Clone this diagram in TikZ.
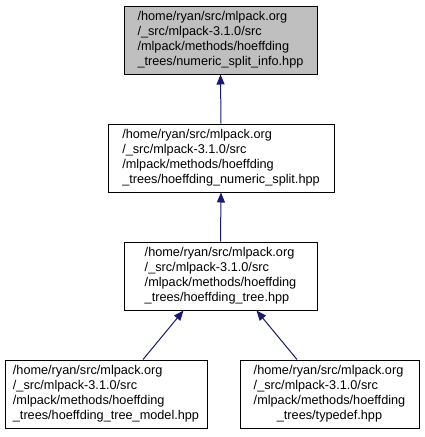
\documentclass[tikz,border=0pt]{standalone}
\usepackage{fontspec}
\setmainfont{Liberation Sans}
\usetikzlibrary{arrows.meta}

\definecolor{edgeblue}{HTML}{191970}
\definecolor{boxgray}{HTML}{BFBFBF}

\begin{document}
\begin{tikzpicture}[x=1pt, y=-1pt,
	every node/.style={font=\fontsize{12.7}{15}\selectfont},
	file/.style={draw, line width=1pt, align=left, minimum height=68pt, inner sep=0pt},
	edge/.style={draw=edgeblue, line width=1pt, -{Triangle[length=10pt, width=8pt]}, edgeblue}]
	\useasboundingbox (0,0) rectangle (424,437);
	\node[file, fill=boxgray, minimum width=193pt] (info) at (220.5,40) {/home/ryan/src/mlpack.org\\/\_src/mlpack-3.1.0/src\\/mlpack/methods/hoeffding\\\_trees/numeric\_split\_info.hpp};
	\node[file, minimum width=226pt] (split) at (221,158) {/home/ryan/src/mlpack.org\\/\_src/mlpack-3.1.0/src\\/mlpack/methods/hoeffding\\\_trees/hoeffding\_numeric\_split.hpp};
	\node[file, minimum width=193pt] (tree) at (220.5,276) {/home/ryan/src/mlpack.org\\/\_src/mlpack-3.1.0/src\\/mlpack/methods/hoeffding\\\_trees/hoeffding\_tree.hpp};
	\node[file, minimum width=202pt] (model) at (106,394) {/home/ryan/src/mlpack.org\\/\_src/mlpack-3.1.0/src\\/mlpack/methods/hoeffding\\\_trees/hoeffding\_tree\_model.hpp};
	\node[file, minimum width=179pt] (typedef) at (329.5,394) {\begin{tabular}{@{}l@{}}/home/ryan/src/mlpack.org\\/\_src/mlpack-3.1.0/src\\/mlpack/methods/hoeffding\\\multicolumn{1}{@{}c@{}}{\_trees/typedef.hpp}\end{tabular}};
	% includes point up to the included file
	\draw[edge] (split.north) -- (info.south);
	\draw[edge] (tree.north) -- (split.south);
	\draw[edge] ([xshift=37pt]model.north) -- ([xshift=-37pt]tree.south);
	\draw[edge] ([xshift=-32.5pt]typedef.north) -- ([xshift=36pt]tree.south);
\end{tikzpicture}
\end{document}
